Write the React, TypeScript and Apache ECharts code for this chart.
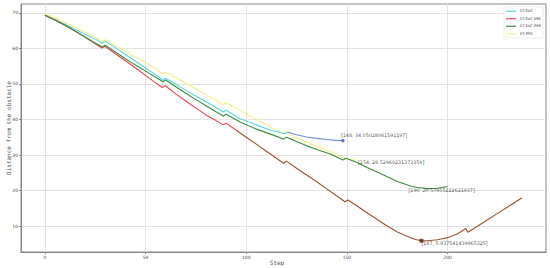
import React, { useEffect, useRef } from "react";
import * as echarts from "echarts";

const seriesNames = ["ET-SAC", "ET-SAC-ERE", "ET-SAC-PER", "ET-PPO"];
const xTicks = [0, 50, 100, 150, 200];
const yTicks = [10, 20, 30, 40, 50, 60, 70];

const etSac: number[][] = [
  [0, 69.3], [5, 68.1], [10, 66.8], [15, 65.4], [20, 64.0], [25, 62.6], [28.5, 61.5], [30, 62.0],
  [35, 60.2], [40, 58.3], [45, 56.4], [50, 54.5], [55, 52.6], [58.7, 51.1], [60, 51.6], [65, 49.9],
  [70, 48.2], [75, 46.6], [80, 45.0], [85, 43.4], [88.6, 42.1], [90, 42.6], [97, 40.2], [105, 38.5],
  [112, 37.0], [119.4, 36.0], [120.5, 36.5],
];
const etSacTail: number[][] = [
  [120.5, 36.5], [125, 35.7], [130, 35.1], [135, 34.7], [140, 34.4], [145, 34.15], [148, 34.05],
];
const etSacEre: number[][] = [
  [0, 69.3], [5, 68.0], [10, 66.5], [15, 64.9], [20, 63.1], [25, 61.3], [28.3, 60.1], [29.8, 60.6],
  [35, 58.5], [40, 56.5], [45, 54.5], [50, 52.4], [55, 50.3], [58.3, 49.0], [59.8, 49.5], [65, 47.2],
  [70, 45.2], [75, 43.2], [80, 41.3], [85, 39.7], [88.5, 38.5], [90, 39.0], [95, 37.0],
];
const etSacEreTail: number[][] = [
  [95, 37.0], [100, 35.0], [105, 33.1], [110, 31.1], [115, 29.1], [118.5, 27.7], [120, 28.3], [125, 26.3],
  [130, 24.4], [135, 22.5], [140, 20.5], [145, 18.5], [149, 16.9], [150.5, 17.4], [155, 15.7], [160, 13.8],
  [165, 11.9], [170, 10.1], [175, 8.4], [180, 7.1], [184, 6.3], [187, 5.94], [190, 5.95], [195, 6.2],
  [200, 6.8], [205, 7.9], [209, 9.35], [210, 8.3], [215, 10.1], [220, 11.9], [225, 13.7], [230, 15.5],
  [237, 18.0],
];
const etSacPer: number[][] = [
  [0, 69.3], [5, 68.0], [10, 66.5], [15, 64.9], [20, 63.2], [25, 61.5], [28.5, 60.4], [30, 60.9],
  [35, 59.0], [40, 57.1], [45, 55.3], [50, 53.6], [55, 51.9], [58.7, 50.6], [60, 51.1], [65, 49.2],
  [70, 47.4], [75, 45.6], [80, 43.9], [85, 42.2], [88.6, 41.0], [90, 41.5], [97, 39.3], [105, 37.3],
  [112, 35.9], [118.5, 34.5], [120, 35.0], [125, 33.8], [130, 32.6], [135, 31.6], [141.8, 30.3],
  [148, 28.6], [149.5, 29.1], [155, 27.9], [160, 26.5], [166.7, 24.8], [170, 23.9], [175, 22.6],
  [181.6, 21.3], [185, 20.9], [190, 20.58], [195, 20.7], [200, 21.2],
];
const etPpo: number[][] = [
  [0, 69.6], [5, 68.5], [10, 67.3], [15, 66.0], [20, 64.6], [25, 63.1], [28.5, 61.9], [30, 62.4],
  [35, 60.8], [40, 59.2], [45, 57.6], [50, 56.0], [55, 54.2], [58.5, 52.8], [60, 53.3], [65, 51.8],
  [70, 50.2], [75, 48.6], [80, 47.0], [85, 45.4], [88.6, 44.2], [90, 44.7], [97, 42.5], [105, 40.0],
  [112, 37.9], [118, 36.2], [119.5, 36.6], [125, 34.9], [130, 33.6], [135, 32.4], [141.8, 31.0],
  [146.8, 29.6], [150, 28.9], [154, 28.53],
];

const annotations = [
  { x: 148, y: 34.05028061591197, text: "[148, 34.05028061591197]", dx: -2, dy: -5 },
  { x: 154, y: 28.52960231373359, text: "[154, 28.52960231373359]", dx: 3, dy: 2 },
  { x: 190, y: 20.57955222621037, text: "[190, 20.57955222621037]", dx: -19, dy: 2 },
  { x: 187, y: 5.937541439965325, text: "[187, 5.937541439965325]", dx: 0, dy: 3 },
];

const colors = {
  sac: "#5fd3e3",
  sacTail: "#6d8fe6",
  ere: "#e8464e",
  ereTail: "#a0522d",
  per: "#3d8c3d",
  ppo: "#f7ef8a",
};

export default function App() {
  const ref = useRef<HTMLDivElement>(null);
  useEffect(() => {
    document.body.style.margin = "0";
    if (!ref.current) return;
    const chart = echarts.init(ref.current, undefined, { renderer: "svg" });
    const lineBase = (name: string, data: number[][], color: string, z = 2) => ({
      name,
      type: "line",
      data,
      showSymbol: false,
      symbol: "none",
      lineStyle: { color, width: 1.1 },
      itemStyle: { color },
      z,
      silent: true,
    });
    chart.setOption({
      animation: false,
      grid: {
        left: 21, right: 4, top: 4, bottom: 16, show: true, borderColor: "#888", borderWidth: 1,
        containLabel: false, outerBoundsMode: "none",
      },
      legend: {
        data: seriesNames,
        orient: "vertical",
        right: 7,
        top: 7,
        icon: "rect",
        itemWidth: 10,
        itemHeight: 1.2,
        itemGap: 3,
        padding: [2, 2, 2, 2],
        borderColor: "#ddd",
        borderWidth: 0.5,
        backgroundColor: "#fff",
        textStyle: { fontSize: 3.6, color: "#333", fontFamily: "DejaVu Sans", lineHeight: 4.5, padding: [0, 0, 0, -1] },
      },
      xAxis: {
        type: "value",
        min: -11.85,
        max: 248.85,
        name: "Step",
        nameLocation: "middle",
        nameGap: 7,
        nameMoveOverlap: false,
        nameTextStyle: { fontSize: 6, fontFamily: "DejaVu Sans Mono", color: "#555", padding: [0, 13, 0, 0] },
        axisLine: { show: true, onZero: false, lineStyle: { color: "#888", width: 1 } },
        axisTick: { show: true, length: 2, customValues: xTicks, lineStyle: { color: "#888" } },
        axisLabel: { customValues: xTicks, fontSize: 4.5, color: "#444", margin: 3, fontFamily: "DejaVu Sans" },
        splitLine: { show: true, lineStyle: { color: "#e3e3e3", width: 1 } },
      },
      yAxis: {
        type: "value",
        min: 2.77,
        max: 72.47,
        name: "Distance from the obstacle",
        nameLocation: "middle",
        nameGap: 10,
        nameMoveOverlap: false,
        nameTextStyle: { fontSize: 6, fontFamily: "DejaVu Sans Mono", color: "#555" },
        axisLine: { show: true, onZero: false, lineStyle: { color: "#888", width: 1 } },
        axisTick: { show: true, length: 2, customValues: yTicks, lineStyle: { color: "#888" } },
        axisLabel: { customValues: yTicks, fontSize: 4.5, color: "#444", margin: 3, fontFamily: "DejaVu Sans" },
        splitLine: { show: true, lineStyle: { color: "#e3e3e3", width: 1 } },
      },
      series: [
        lineBase("ET-SAC", etSac, colors.sac, 3),
        lineBase("ET-SAC-ERE", etSacEre, colors.ere, 3),
        lineBase("ET-SAC-PER", etSacPer, colors.per, 3),
        lineBase("ET-PPO", etPpo, colors.ppo, 2),
        lineBase("sac-tail", etSacTail, colors.sacTail, 3),
        lineBase("ere-tail", etSacEreTail, colors.ereTail, 3),
        {
          name: "markers",
          type: "scatter",
          silent: true,
          z: 5,
          data: [
            { value: [148, 34.05028061591197], symbol: "rect", symbolSize: 3, itemStyle: { color: "#2a4ed8" } },
            { value: [187, 5.937541439965325], symbol: "rect", symbolSize: 4, itemStyle: { color: "#5a2a10" } },
          ],
        },
        {
          name: "labels",
          type: "scatter",
          silent: true,
          z: 6,
          symbolSize: 0.01,
          itemStyle: { color: "transparent" },
          data: annotations.map((a) => ({
            value: [a.x, a.y],
            label: {
              show: true,
              formatter: a.text,
              position: [a.dx, a.dy],
              align: "left",
              verticalAlign: "middle",
              fontSize: 4.8,
              color: "#222",
              fontFamily: "DejaVu Sans",
            },
          })),
        },
      ],
    });
    return () => chart.dispose();
  }, []);
  return <div ref={ref} style={{ width: 550, height: 268 }} />;
}
